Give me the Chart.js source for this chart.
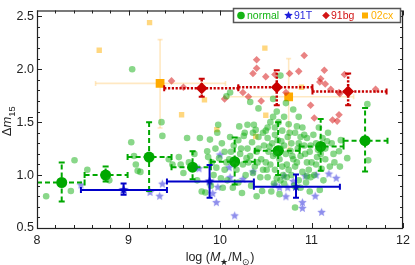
<!DOCTYPE html>
<html>
<head>
<meta charset="utf-8">
<script src="https://cdn.jsdelivr.net/npm/chart.js@4"></script>
<style>
  body { margin: 0; background: #fff; }
  canvas { display: block; }
</style>
</head>
<body>
<canvas id="chart" width="415" height="265"></canvas>
<script>
// individual SNe (log M*, dm15)
const normalX = [8.10, 8.37, 8.41, 8.55, 8.79, 9.03, 9.04, 9.10, 9.06, 9.08,
    9.13, 9.36, 9.37, 9.44, 9.48, 9.55, 9.57, 9.64, 9.78, 9.89,
    9.86, 9.87, 9.91, 9.80, 9.84, 9.98, 9.60, 9.72, 9.75, 9.93,
    9.95, 9.97, 9.66, 9.90, 10.11, 10.07, 10.21, 10.30, 10.37, 10.39,
    10.27, 10.11, 10.42, 10.50, 10.02, 10.05, 10.10, 10.15, 10.20, 10.22,
    10.25, 10.30, 10.33, 10.35, 10.40, 10.45, 10.48, 10.18, 10.28, 10.38,
    10.44, 10.08, 10.14, 10.24, 10.34, 10.46, 10.05, 10.42, 10.33, 10.20,
    10.31, 10.47, 10.40, 10.26, 10.03, 10.36, 10.66, 10.72, 10.58, 10.62,
    10.80, 10.86, 10.55, 10.60, 10.68, 10.75, 10.82, 10.90, 10.95, 10.52,
    10.57, 10.63, 10.70, 10.78, 10.85, 10.92, 10.98, 10.53, 10.58, 10.65,
    10.72, 10.80, 10.88, 10.95, 10.55, 10.60, 10.68, 10.75, 10.82, 10.90,
    10.97, 10.52, 10.62, 10.70, 10.78, 10.86, 10.94, 10.56, 10.65, 10.82,
    10.98, 10.74, 10.66, 10.88, 10.60, 10.50, 10.77, 10.84, 10.69, 10.99,
    11.09, 11.05, 11.10, 11.15, 11.20, 11.25, 11.30, 11.31, 11.32, 11.39,
    11.05, 11.12, 11.18, 11.08, 11.02, 11.22, 11.03, 11.13, 11.15, 11.61,
    11.62, 10.42, 10.47, 10.52, 10.58, 10.64, 10.70, 10.76, 10.84, 10.92,
    10.54, 10.61, 10.67, 10.73, 10.79, 10.86, 10.93, 10.99, 10.51, 10.59,
    10.66, 10.73, 10.81, 10.88, 10.95, 10.41, 10.36, 10.29, 10.23, 10.16,
    10.12, 10.07, 9.99, 9.96, 10.01, 11.06, 11.11, 11.17, 11.24, 11.00,
    11.07];
const normalY = [0.80, 0.85, 1.14, 1.05, 0.95, 1.31, 2.00, 1.04, 1.18, 1.10,
    1.03, 1.50, 1.37, 1.15, 1.10, 1.17, 1.10, 1.35, 1.35, 1.335,
    1.225, 1.17, 1.12, 0.845, 0.836, 1.475, 1.02, 1.20, 0.95, 1.00,
    1.25, 1.40, 1.12, 0.90, 1.78, 1.745, 1.46, 1.475, 1.475, 1.427,
    1.40, 1.36, 1.36, 1.42, 1.30, 1.22, 1.15, 1.28, 1.33, 1.20,
    1.10, 1.25, 1.18, 1.31, 1.22, 1.15, 1.28, 1.05, 1.00, 1.08,
    0.98, 0.95, 0.88, 0.83, 0.90, 0.85, 1.05, 1.63, 1.69, 0.93,
    1.12, 1.05, 0.80, 1.37, 0.88, 1.40, 1.94, 1.68, 1.72, 1.60,
    1.62, 1.55, 1.50, 1.45, 1.42, 1.48, 1.40, 1.45, 1.35, 1.35,
    1.30, 1.33, 1.28, 1.30, 1.25, 1.28, 1.22, 1.22, 1.18, 1.15,
    1.20, 1.15, 1.18, 1.12, 1.10, 1.05, 1.08, 1.05, 1.08, 1.03,
    1.05, 0.98, 0.97, 0.92, 1.00, 0.95, 0.93, 0.845, 0.82, 0.694,
    0.845, 1.36, 1.25, 1.36, 1.38, 1.12, 1.23, 1.12, 1.00, 0.98,
    0.86, 1.10, 1.20, 1.15, 1.08, 1.12, 1.225, 1.08, 1.33, 1.16,
    1.30, 1.35, 1.40, 1.45, 1.38, 1.30, 1.00, 0.95, 1.25, 1.67,
    1.14, 1.25, 1.40, 1.45, 1.55, 1.50, 1.55, 1.40, 1.46, 1.38,
    1.27, 1.20, 1.32, 1.10, 1.18, 1.30, 1.20, 1.28, 1.05, 0.92,
    0.95, 0.98, 0.90, 0.88, 0.99, 1.12, 1.02, 1.16, 1.25, 1.10,
    1.22, 1.12, 1.16, 1.07, 0.97, 1.17, 1.06, 1.32, 1.20, 1.12,
    1.24];

const t91X = [8.48, 9.235, 9.34, 9.37, 9.77, 10.00, 10.10, 10.11, 9.976, 9.92,
    9.96, 10.16, 10.25, 10.36, 10.60, 10.65, 10.70, 10.74, 10.80, 10.93,
    11.05, 11.19, 11.27, 10.72, 10.90, 10.90, 11.04, 11.11];
const t91Y = [0.906, 0.836, 0.80, 0.915, 1.06, 1.19, 1.07, 0.976, 0.885, 0.825,
    0.74, 0.615, 0.96, 1.03, 0.906, 0.88, 0.99, 0.88, 0.94, 0.99,
    1.00, 1.01, 0.97, 0.795, 0.74, 0.686, 0.80, 0.648];

const bg91X = [9.47, 9.60, 10.40, 10.40, 10.36, 10.50, 10.25, 10.31, 10.05, 10.45,
    10.76, 10.86, 11.14, 11.09, 11.15, 11.21, 11.30, 10.72, 10.99, 11.03,
    11.23, 10.92, 11.10, 11.36, 11.30, 11.28, 10.60, 11.70, 11.31];
const bg91Y = [1.89, 1.83, 2.09, 2.01, 1.96, 1.93, 1.78, 1.74, 1.72, 1.70,
    1.96, 1.98, 1.99, 1.88, 1.86, 1.81, 1.78, 1.78, 1.66, 1.54,
    1.52, 2.13, 1.91, 1.95, 1.57, 1.51, 1.95, 1.81, 1.77];

const cx02X = [8.68, 9.23, 9.83, 9.58, 10.49, 10.50, 9.965, 10.39, 10.89];
const cx02Y = [2.18, 2.44, 1.71, 1.57, 2.20, 1.565, 1.43, 1.365, 1.83];

// binned means with error bars
const normalBinX = [8.27, 8.75, 9.225, 9.70, 10.16, 10.635, 11.10, 11.585];
const normalBinY = [0.93, 1.00, 1.17, 1.075, 1.127, 1.23, 1.27, 1.325];
const normalBinXLo = [8.00, 8.52, 8.99, 9.47, 9.90, 10.38, 10.87, 11.35];
const normalBinXHi = [8.52, 8.99, 9.47, 9.90, 10.38, 10.87, 11.35, 11.83];
const normalBinYLo = [0.75, 0.94, 0.85, 0.96, 0.91, 1.00, 1.04, 1.035];
const normalBinYHi = [1.12, 1.08, 1.50, 1.225, 1.355, 1.50, 1.53, 1.634];

const t91BinX = [8.946, 9.886, 10.83];
const t91BinY = [0.86, 0.94, 0.89];
const t91BinXLo = [8.48, 9.42, 10.37];
const t91BinXHi = [9.42, 10.37, 11.31];
const t91BinYLo = [0.815, 0.785, 0.785];
const t91BinYHi = [0.92, 1.095, 1.006];

const bg91BinX = [9.80, 10.62, 11.40];
const bg91BinY = [1.82, 1.83, 1.79];
const bg91BinXLo = [9.39, 10.20, 11.01];
const bg91BinXHi = [10.20, 11.01, 11.82];
const bg91BinYLo = [1.74, 1.66, 1.66];
const bg91BinYHi = [1.91, 1.99, 1.96];

const cx02BinX = [9.345, 10.75];
const cx02BinY = [1.866, 1.74];
const cx02BinXLo = [8.64, 10.09];
const cx02BinXHi = [10.06, 11.46];
const cx02BinYLo = [1.445, 1.25];
const cx02BinYHi = [2.28, 2.10];

const xTicks = [8, 9, 10, 11, 12];
const yTicks = [0.5, 1.0, 1.5, 2.0, 2.5];

const GREEN = "rgb(0,168,0)";
const BLUE = "rgb(0,0,200)";
const RED = "rgb(200,0,0)";
const ORANGE = "rgb(255,170,0)";
const FONT = "'Liberation Sans', Arial, sans-serif";

function pts(xs, ys) {
    return xs.map((x, i) => ({ x: x, y: ys[i] }));
}

function makeStar(r, fill) {
    const c = document.createElement("canvas");
    const s = Math.ceil(r * 2 + 2);
    c.width = s;
    c.height = s;
    const g = c.getContext("2d");
    g.fillStyle = fill;
    g.beginPath();
    for (let i = 0; i < 10; i++) {
        const a = -Math.PI / 2 + i * Math.PI / 5;
        const rr = i % 2 ? r * 0.45 : r;
        g.lineTo(s / 2 + rr * Math.cos(a), s / 2 + rr * Math.sin(a));
    }
    g.closePath();
    g.fill();
    return c;
}

const starLight = makeStar(4.5, "rgba(50,50,220,0.55)");
const starDark = makeStar(5, BLUE);
const starLegend = makeStar(4.5, "rgb(30,30,220)");

// error bars, drawn from the bin arrays through the chart scales
const errorSets = [
    { x: cx02BinX, y: cx02BinY, xlo: cx02BinXLo, xhi: cx02BinXHi, ylo: cx02BinYLo, yhi: cx02BinYHi,
      color: "rgba(255,190,80,0.35)", width: 1.6, dash: [], cap: 2.5, when: "before" },
    { x: normalBinX, y: normalBinY, xlo: normalBinXLo, xhi: normalBinXHi, ylo: normalBinYLo, yhi: normalBinYHi,
      color: GREEN, width: 2, dash: [5, 3], cap: 3, when: "after" },
    { x: t91BinX, y: t91BinY, xlo: t91BinXLo, xhi: t91BinXHi, ylo: t91BinYLo, yhi: t91BinYHi,
      color: BLUE, width: 2, dash: [], cap: 3, when: "after" },
    { x: bg91BinX, y: bg91BinY, xlo: bg91BinXLo, xhi: bg91BinXHi, ylo: bg91BinYLo, yhi: bg91BinYHi,
      color: RED, width: 2.5, dash: [2.2, 1.6], cap: 3, when: "after" }
];

function drawErrors(chart, when) {
    const ctx = chart.ctx, xs = chart.scales.x, ys = chart.scales.y, a = chart.chartArea;
    ctx.save();
    ctx.beginPath();
    ctx.rect(a.left, a.top, a.right - a.left, a.bottom - a.top);
    ctx.clip();
    errorSets.filter(s => s.when === when).forEach(s => {
        ctx.strokeStyle = s.color;
        ctx.lineWidth = s.width;
        ctx.setLineDash(s.dash);
        s.x.forEach((xv, i) => {
            const px = xs.getPixelForValue(xv), py = ys.getPixelForValue(s.y[i]);
            const x0 = xs.getPixelForValue(s.xlo[i]), x1 = xs.getPixelForValue(s.xhi[i]);
            const y0 = ys.getPixelForValue(s.ylo[i]), y1 = ys.getPixelForValue(s.yhi[i]);
            ctx.beginPath();
            ctx.moveTo(x0, py); ctx.lineTo(x1, py);
            ctx.moveTo(px, y0); ctx.lineTo(px, y1);
            ctx.stroke();
            ctx.save();
            ctx.setLineDash([]);
            ctx.lineWidth = Math.min(s.width, 2);
            ctx.beginPath();
            ctx.moveTo(x0, py - s.cap); ctx.lineTo(x0, py + s.cap);
            ctx.moveTo(x1, py - s.cap); ctx.lineTo(x1, py + s.cap);
            ctx.moveTo(px - s.cap, y0); ctx.lineTo(px + s.cap, y0);
            ctx.moveTo(px - s.cap, y1); ctx.lineTo(px + s.cap, y1);
            ctx.stroke();
            ctx.restore();
        });
    });
    ctx.restore();
}

// draw rich text pieces: [text, italic, sub]
function drawRich(ctx, parts, size) {
    let w = 0;
    parts.forEach(p => {
        ctx.font = (p[1] ? "italic " : "") + (p[2] ? size * 0.72 : size) + "px " + FONT;
        p.w = ctx.measureText(p[0]).width;
        w += p.w;
    });
    let x = -w / 2;
    parts.forEach(p => {
        ctx.font = (p[1] ? "italic " : "") + (p[2] ? size * 0.72 : size) + "px " + FONT;
        ctx.fillText(p[0], x, p[2] ? size * 0.28 : 0);
        x += p.w;
    });
}

const framePlugin = {
    id: "frame",
    beforeDatasetsDraw(chart) {
        drawErrors(chart, "before");
    },
    afterDatasetsDraw(chart) {
        drawErrors(chart, "after");
    },
    afterDraw(chart) {
        const ctx = chart.ctx, xs = chart.scales.x, ys = chart.scales.y, a = chart.chartArea;
        ctx.save();
        ctx.strokeStyle = "#222";
        ctx.lineWidth = 1;
        ctx.beginPath();
        // minor/major ticks on all four sides, pointing inward
        for (let v = 8; v <= 12.001; v += 0.2) {
            const major = Math.abs(v - Math.round(v)) < 1e-6;
            const len = major ? 5 : 3;
            const px = Math.round(xs.getPixelForValue(v)) + 0.5;
            ctx.moveTo(px, a.bottom); ctx.lineTo(px, a.bottom - len);
            ctx.moveTo(px, a.top); ctx.lineTo(px, a.top + len);
        }
        for (let v = 0.5; v <= 2.551; v += 0.1) {
            const major = Math.abs(v * 2 - Math.round(v * 2)) < 1e-6;
            const len = major ? 5 : 3;
            const py = Math.round(ys.getPixelForValue(v)) + 0.5;
            ctx.moveTo(a.left, py); ctx.lineTo(a.left + len, py);
            ctx.moveTo(a.right, py); ctx.lineTo(a.right - len, py);
        }
        ctx.stroke();
        ctx.lineWidth = 1.2;
        ctx.strokeRect(a.left + 0.5, a.top + 0.5, a.right - a.left - 1, a.bottom - a.top);

        // axis titles
        ctx.fillStyle = "#222";
        ctx.textBaseline = "alphabetic";
        ctx.textAlign = "left";
        ctx.save();
        ctx.translate((a.left + a.right) / 2, 261);
        drawRich(ctx, [["log (", false, false], ["M", true, false], ["\u2605", false, true],
            ["/M", false, false], ["\u2299", false, true], [")", false, false]], 12.5);
        ctx.restore();
        ctx.save();
        ctx.translate(11, (a.top + a.bottom) / 2 + 2);
        ctx.rotate(-Math.PI / 2);
        drawRich(ctx, [["\u0394", false, false], ["m", true, false], ["15", false, true]], 13);
        ctx.restore();

        // legend box
        const lx = 233, ly = 8, lw = 167, lh = 14;
        ctx.fillStyle = "#fff";
        ctx.fillRect(lx, ly, lw, lh);
        ctx.strokeStyle = "#555";
        ctx.lineWidth = 1.5;
        ctx.strokeRect(lx + 0.5, ly + 0.5, lw, lh);
        const cy = ly + lh / 2 + 0.5;
        ctx.font = "10.5px " + FONT;
        ctx.textBaseline = "middle";
        ctx.fillStyle = "rgb(20,180,20)";
        ctx.beginPath(); ctx.arc(241, cy, 3.8, 0, Math.PI * 2); ctx.fill();
        ctx.fillText("normal", 247, cy + 0.5);
        ctx.drawImage(starLegend, 288.5 - starLegend.width / 2, cy - starLegend.height / 2);
        ctx.fillStyle = "rgb(40,40,220)";
        ctx.fillText("91T", 294, cy + 0.5);
        ctx.fillStyle = "rgb(210,20,20)";
        ctx.beginPath();
        ctx.moveTo(326, cy - 3.8); ctx.lineTo(329.8, cy); ctx.lineTo(326, cy + 3.8); ctx.lineTo(322.2, cy);
        ctx.closePath(); ctx.fill();
        ctx.fillText("91bg", 331, cy + 0.5);
        ctx.fillStyle = "rgb(255,175,0)";
        ctx.fillRect(362, cy - 3, 6, 6);
        ctx.fillText("02cx", 371, cy + 0.5);
        ctx.restore();
    }
};

new Chart(document.getElementById("chart"), {
    type: "scatter",
    data: {
        datasets: [
            { data: pts(normalX, normalY), pointStyle: "circle", pointRadius: 3.3,
              backgroundColor: "rgba(20,175,20,0.5)", borderWidth: 0 },
            { data: pts(t91X, t91Y), pointStyle: starLight, pointRadius: 4.5 },
            { data: pts(bg91X, bg91Y), pointStyle: "rectRot", pointRadius: 3.8,
              backgroundColor: "rgba(215,30,30,0.55)", borderWidth: 0 },
            { data: pts(cx02X, cx02Y), pointStyle: "rect", pointRadius: 3.8,
              backgroundColor: "rgba(255,175,0,0.5)", borderWidth: 0 },
            { data: pts(normalBinX, normalBinY), pointStyle: "circle", pointRadius: 5.5,
              backgroundColor: GREEN, borderWidth: 0 },
            { data: pts(t91BinX, t91BinY), pointStyle: starDark, pointRadius: 5 },
            { data: pts(bg91BinX, bg91BinY), pointStyle: "rectRot", pointRadius: 6,
              backgroundColor: RED, borderWidth: 0 },
            { data: pts(cx02BinX, cx02BinY), pointStyle: "rect", pointRadius: 6.2,
              backgroundColor: ORANGE, borderWidth: 0 }
        ]
    },
    options: {
        responsive: false,
        animation: false,
        layout: { padding: { top: 1, right: 9, left: 0, bottom: 0 } },
        plugins: { legend: { display: false }, tooltip: { enabled: false } },
        scales: {
            x: {
                type: "linear", min: 8, max: 12,
                afterFit(s) { s.height = 37; },
                afterBuildTicks(s) { s.ticks = xTicks.map(v => ({ value: v })); },
                grid: { display: false, drawTicks: false },
                border: { display: false },
                ticks: { padding: 5, color: "#222", font: { family: FONT, size: 12.5 } }
            },
            y: {
                type: "linear", min: 0.5, max: 2.555,
                afterFit(s) { s.width = 37; },
                afterBuildTicks(s) { s.ticks = yTicks.map(v => ({ value: v })); },
                grid: { display: false, drawTicks: false },
                border: { display: false },
                ticks: { padding: 3, color: "#222", font: { family: FONT, size: 12.5 },
                         callback: v => v.toFixed(1) }
            }
        }
    },
    plugins: [framePlugin]
});
</script>
</body>
</html>
